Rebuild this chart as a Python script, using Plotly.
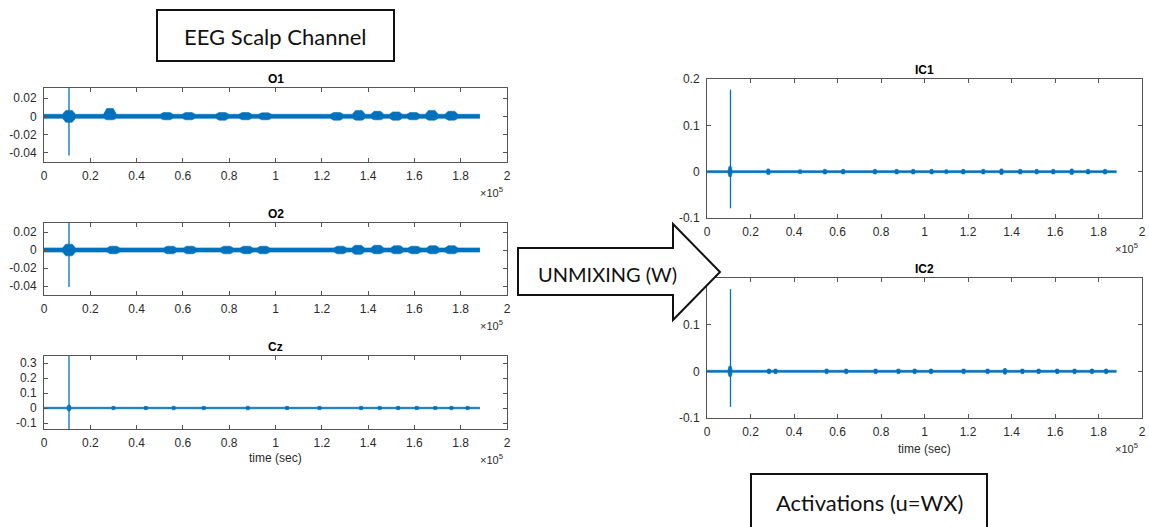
import plotly.graph_objects as go

W, H = 1149, 527
BLUE = "#0072BD"
AXC = "#555555"
TXT = "#2b2b2b"
AXFONT = "Liberation Sans, Arial, sans-serif"
BOXFONT = "Lato, 'Open Sans', sans-serif"

# ---- data -------------------------------------------------------------
# time axis shown in units of 1e5 samples
x_tickvals = [0, 20000, 40000, 60000, 80000, 100000, 120000, 140000, 160000, 180000, 200000]
x_ticktext = ["0", "0.2", "0.4", "0.6", "0.8", "1", "1.2", "1.4", "1.6", "1.8", "2"]
t_end = 188300

# artifact spike (sample, peak, trough) per channel
spike_t = 10800
o1_spike = (0.040, -0.043)
o2_spike = (0.040, -0.041)
cz_spike = (0.40, -0.20)
ic1_spike = (0.177, -0.079)
ic2_spike = (0.176, -0.076)

# signal envelope: baseline half-width and bursts (sample, upper, lower)
o1_base = 0.0022
o1_burst_t = [10800, 28500, 53000, 62500, 77000, 87000, 95500, 126500, 136000, 144000, 152000, 159500, 167500, 176000]
o1_burst_hi = [0.0065, 0.0085, 0.0042, 0.0042, 0.0042, 0.0042, 0.0038, 0.0042, 0.0065, 0.0055, 0.0048, 0.0042, 0.0065, 0.0055]
o1_burst_lo = [-0.0065, -0.0038, -0.0038, -0.0038, -0.0042, -0.0038, -0.0038, -0.0042, -0.0042, -0.0038, -0.0042, -0.0038, -0.0042, -0.0042]

o2_base = 0.0023
o2_burst_t = [10800, 30000, 54500, 63000, 79000, 87500, 94800, 128000, 135700, 144000, 152500, 160000, 168000, 176000]
o2_burst_hi = [0.0065, 0.0042, 0.0042, 0.0042, 0.0042, 0.0042, 0.0042, 0.0042, 0.0052, 0.0052, 0.0048, 0.0042, 0.0048, 0.0048]
o2_burst_lo = [-0.0065, -0.0042, -0.0042, -0.0042, -0.0042, -0.0042, -0.0042, -0.0042, -0.0048, -0.0042, -0.0042, -0.0042, -0.0042, -0.0042]

cz_base = 0.005
cz_burst_t = [10800, 30000, 44000, 56000, 69000, 88000, 105000, 119000, 137000, 145000, 153000, 161000, 169000, 176000, 183000]
cz_burst_hi = [0.018, 0.011, 0.011, 0.011, 0.011, 0.012, 0.011, 0.011, 0.012, 0.011, 0.011, 0.011, 0.011, 0.011, 0.011]
cz_burst_lo = [-0.018, -0.011, -0.011, -0.011, -0.011, -0.012, -0.011, -0.011, -0.012, -0.011, -0.011, -0.011, -0.011, -0.011, -0.011]

ic1_base = 0.0022
ic1_burst_t = [10600, 28200, 42800, 54200, 62600, 77200, 87200, 94800, 103300, 110000, 117800, 127000, 135400, 144000, 151600, 159200, 167700, 175200, 183000]
ic1_burst_hi = [0.011, 0.006, 0.004, 0.005, 0.005, 0.005, 0.005, 0.005, 0.005, 0.004, 0.005, 0.005, 0.006, 0.005, 0.005, 0.005, 0.006, 0.005, 0.005]
ic1_burst_lo = [-0.011, -0.006, -0.004, -0.005, -0.005, -0.005, -0.005, -0.005, -0.005, -0.004, -0.005, -0.005, -0.006, -0.005, -0.005, -0.005, -0.006, -0.005, -0.005]

ic2_base = 0.0022
ic2_burst_t = [10600, 28500, 31500, 55000, 64000, 77500, 88000, 95500, 103000, 118000, 129000, 137000, 145000, 152500, 161000, 169000, 177000, 183500]
ic2_burst_hi = [0.011, 0.005, 0.005, 0.005, 0.005, 0.005, 0.005, 0.005, 0.005, 0.005, 0.005, 0.006, 0.005, 0.005, 0.005, 0.005, 0.005, 0.005]
ic2_burst_lo = [-0.011, -0.005, -0.005, -0.005, -0.005, -0.005, -0.005, -0.005, -0.005, -0.005, -0.005, -0.006, -0.005, -0.005, -0.005, -0.005, -0.005, -0.005]


def px(x):
    return x / W


def py(y):
    return 1 - y / H


def envelope(base, bt, hi, lo, half):
    # piecewise-linear band: flat-topped bursts on a constant baseline
    xs, up, dn = [0], [base], [-base]
    for t, h, l in zip(bt, hi, lo):
        xs += [t - half, t - half * 0.5, t + half * 0.5, t + half]
        up += [base, h, h, base]
        dn += [-base, l, l, -base]
    xs.append(t_end)
    up.append(base)
    dn.append(-base)
    return xs, up, dn


# panel name, axis box (left, top, right, bottom in px), y range, y ticks, data
panels = [
    ("O1", (44, 88, 507, 162), [-0.05, 0.031], [-0.04, -0.02, 0, 0.02], ["-0.04", "-0.02", "0", "0.02"],
     (o1_base, o1_burst_t, o1_burst_hi, o1_burst_lo, 2800), o1_spike),
    ("O2", (44, 223, 507, 295), [-0.05, 0.03], [-0.04, -0.02, 0, 0.02], ["-0.04", "-0.02", "0", "0.02"],
     (o2_base, o2_burst_t, o2_burst_hi, o2_burst_lo, 2800), o2_spike),
    ("Cz", (44, 356, 507, 429), [-0.14, 0.347], [-0.1, 0, 0.1, 0.2, 0.3], ["-0.1", "0", "0.1", "0.2", "0.3"],
     (cz_base, cz_burst_t, cz_burst_hi, cz_burst_lo, 1000), cz_spike),
    ("IC1", (707, 79, 1142, 218), [-0.1, 0.2], [-0.1, 0, 0.1, 0.2], ["-0.1", "0", "0.1", "0.2"],
     (ic1_base, ic1_burst_t, ic1_burst_hi, ic1_burst_lo, 1000), ic1_spike),
    ("IC2", (707, 278, 1142, 418), [-0.1, 0.2], [-0.1, 0, 0.1, 0.2], ["-0.1", "0", "0.1", "0.2"],
     (ic2_base, ic2_burst_t, ic2_burst_hi, ic2_burst_lo, 1000), ic2_spike),
]

fig = go.Figure()
annotations = []

for i, (name, (l, t, r, b), yr, yt, ytt, env, spk) in enumerate(panels, start=1):
    sx = "" if i == 1 else str(i)
    xa, ya = "x" + sx, "y" + sx
    xs, up, dn = envelope(*env)
    fig.add_trace(go.Scatter(x=xs, y=up, mode="lines", line=dict(color=BLUE, width=0.6),
                             xaxis=xa, yaxis=ya, showlegend=False, hoverinfo="skip"))
    fig.add_trace(go.Scatter(x=xs, y=dn, mode="lines", line=dict(color=BLUE, width=0.6),
                             fill="tonexty", fillcolor=BLUE,
                             xaxis=xa, yaxis=ya, showlegend=False, hoverinfo="skip"))
    fig.add_trace(go.Scatter(x=[spike_t, spike_t], y=[spk[0], spk[1]], mode="lines",
                             line=dict(color=BLUE, width=1.3),
                             xaxis=xa, yaxis=ya, showlegend=False, hoverinfo="skip"))
    common = dict(showline=True, linecolor=AXC, linewidth=1, mirror="allticks",
                  ticks="inside", ticklen=4, tickcolor=AXC, showgrid=False, zeroline=False,
                  automargin=False,
                  tickfont=dict(family=AXFONT, size=12, color=TXT))
    fig.update_layout(**{
        ("xaxis" + sx): dict(domain=[px(l), px(r)], range=[0, 200000], anchor=ya,
                             tickvals=x_tickvals, ticktext=x_ticktext, ticklabelstandoff=3, **common),
        ("yaxis" + sx): dict(domain=[py(b), py(t)], range=yr, anchor=xa,
                             tickvals=yt, ticktext=ytt, ticklabelstandoff=4, **common),
    })
    annotations.append(dict(text="<b>%s</b>" % name, x=px((l + r) / 2), y=py(t - 9), xref="paper", yref="paper",
                            showarrow=False, xanchor="center", yanchor="middle",
                            font=dict(family=AXFONT, size=12, color="#000")))
    annotations.append(dict(text="\u00d710<sup>5</sup>", x=px(r - 2), y=py(b + 30), xref="paper", yref="paper",
                            showarrow=False, xanchor="right", yanchor="middle",
                            font=dict(family=AXFONT, size=11, color=TXT)))

# x-axis labels on the bottom panel of each column
for (l, r, yc) in [(44, 507, 458), (707, 1142, 449)]:
    annotations.append(dict(text="time (sec)", x=px((l + r) / 2), y=py(yc), xref="paper", yref="paper",
                            showarrow=False, xanchor="center", yanchor="middle",
                            font=dict(family=AXFONT, size=12, color=TXT)))

annotations += [
    dict(text="EEG Scalp Channel", x=px(275.5), y=py(37), xref="paper", yref="paper", showarrow=False,
         xanchor="center", yanchor="middle", font=dict(family=BOXFONT, size=22, color="#111")),
    dict(text="Activations (u=WX)", x=px(869), y=py(502), xref="paper", yref="paper", showarrow=False,
         xanchor="center", yanchor="middle", font=dict(family=BOXFONT, size=22, color="#111")),
    dict(text="UNMIXING (W)", x=px(607), y=py(274), xref="paper", yref="paper", showarrow=False,
         xanchor="center", yanchor="middle", font=dict(family=BOXFONT, size=20, color="#111")),
]


def path(points):
    return "M " + " L ".join("%.5f,%.5f" % (px(x), py(y)) for x, y in points) + " Z"


shapes = [
    dict(type="rect", xref="paper", yref="paper", x0=px(157), x1=px(394), y0=py(61), y1=py(10),
         line=dict(color="#111", width=2), fillcolor="white", layer="above"),
    dict(type="rect", xref="paper", yref="paper", x0=px(751), x1=px(987), y0=py(540), y1=py(474),
         line=dict(color="#111", width=2), fillcolor="white", layer="above"),
    dict(type="path", xref="paper", yref="paper",
         path=path([(518, 248), (673, 248), (673, 224), (720, 272), (673, 320), (673, 295), (518, 295)]),
         line=dict(color="#111", width=2), fillcolor="white", layer="above"),
]

fig.update_layout(template="none", width=W, height=H, margin=dict(l=0, r=0, t=0, b=0, pad=0),
                  paper_bgcolor="white", plot_bgcolor="white",
                  annotations=annotations, shapes=shapes)

fig.write_html("out.html")
